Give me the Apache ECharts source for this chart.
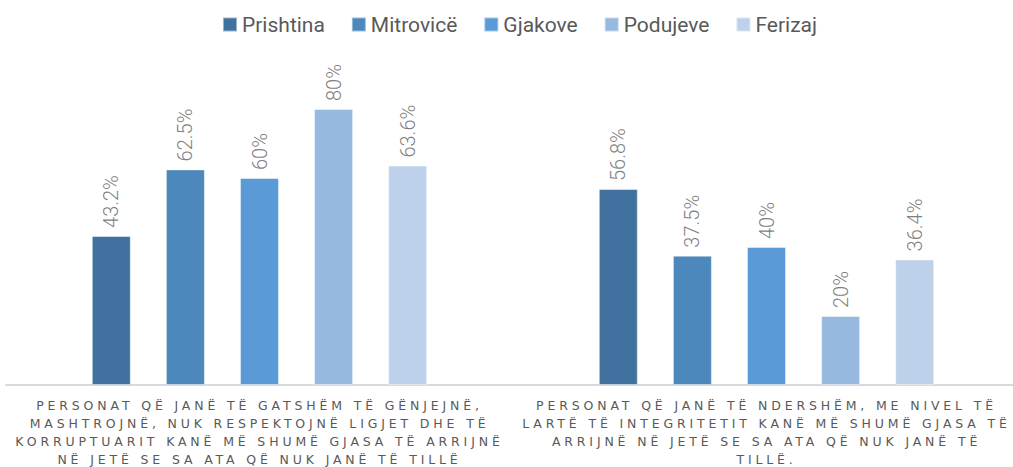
<!DOCTYPE html>
<html>
<head>
	<meta charset="utf-8">
	<script src="https://cdn.jsdelivr.net/npm/echarts@6/dist/echarts.min.js"></script>
	<style>
		html, body {margin: 0; padding: 0; background: #fff;}
		#main {width: 1013px; height: 467px;}
		/* spaced capitals for the category labels */
		#main text[fill="#595958"] {letter-spacing: 3.85px;}
	</style>
</head>
<body>
<div id="main"></div>
<script>
	var categories = [
		'PERSONAT QË JANË TË GATSHËM TË GËNJEJNË,\nMASHTROJNË, NUK RESPEKTOJNË LIGJET DHE TË\nKORRUPTUARIT KANË MË SHUMË GJASA TË ARRIJNË\nNË JETË SE SA ATA QË NUK JANË TË TILLË',
		'PERSONAT QË JANË TË NDERSHËM, ME NIVEL TË\nLARTË TË INTEGRITETIT KANË MË SHUMË GJASA TË\nARRIJNË NË JETË SE SA ATA QË NUK JANË TË\nTILLË.'
	];
	var cities = ['Prishtina', 'Mitrovicë', 'Gjakove', 'Podujeve', 'Ferizaj'];
	var prishtina = [43.2, 56.8];
	var mitrovice = [62.5, 37.5];
	var gjakove = [60, 40];
	var podujeve = [80, 20];
	var ferizaj = [63.6, 36.4];
	var colors = ['#41729f', '#4c88bc', '#5a9ad6', '#97b8df', '#bdd1ea'];

	var values = [prishtina, mitrovice, gjakove, podujeve, ferizaj];
	var seriesList = cities.map(function (name, i) {
		return {
			name: name,
			type: 'bar',
			barWidth: 39,
			barGap: '90%',
			data: values[i],
			itemStyle: {color: colors[i], borderColor: 'rgba(255,255,255,0.45)', borderWidth: 1},
			label: {
				show: true,
				position: 'top',
				rotate: 90,
				align: 'left',
				verticalAlign: 'middle',
				distance: 8,
				fontFamily: 'Roboto',
				fontWeight: 300,
				fontSize: 20,
				color: '#7f7f7f',
				formatter: function (p) { return p.value + '%'; }
			}
		};
	});

	var myChart = echarts.init(document.getElementById('main'), null, {renderer: 'svg'});
	myChart.setOption({
		animation: false,
		textStyle: {fontFamily: 'Roboto'},
		legend: {
			data: cities,
			top: 9,
			left: 217,
			itemWidth: 14,
			itemHeight: 14,
			itemGap: 26,
			icon: 'rect',
			textStyle: {fontSize: 21, color: '#595959', fontFamily: 'Roboto'}
		},
		grid: {left: 6, width: 1014, top: 40, bottom: 82, outerBoundsMode: 'none', containLabel: false},
		xAxis: {
			type: 'category',
			data: categories,
			axisLine: {lineStyle: {color: '#d9d9d9', width: 2}},
			axisTick: {show: false},
			axisLabel: {
				interval: 0,
				margin: 12,
				fontSize: 12.5,
				lineHeight: 17.8,
				color: '#595958',
				fontFamily: 'DejaVu Sans'
			}
		},
		yAxis: {
			type: 'value',
			min: 0,
			max: 100,
			show: false,
			splitLine: {show: false}
		},
		series: seriesList
	});
</script>
</body>
</html>
